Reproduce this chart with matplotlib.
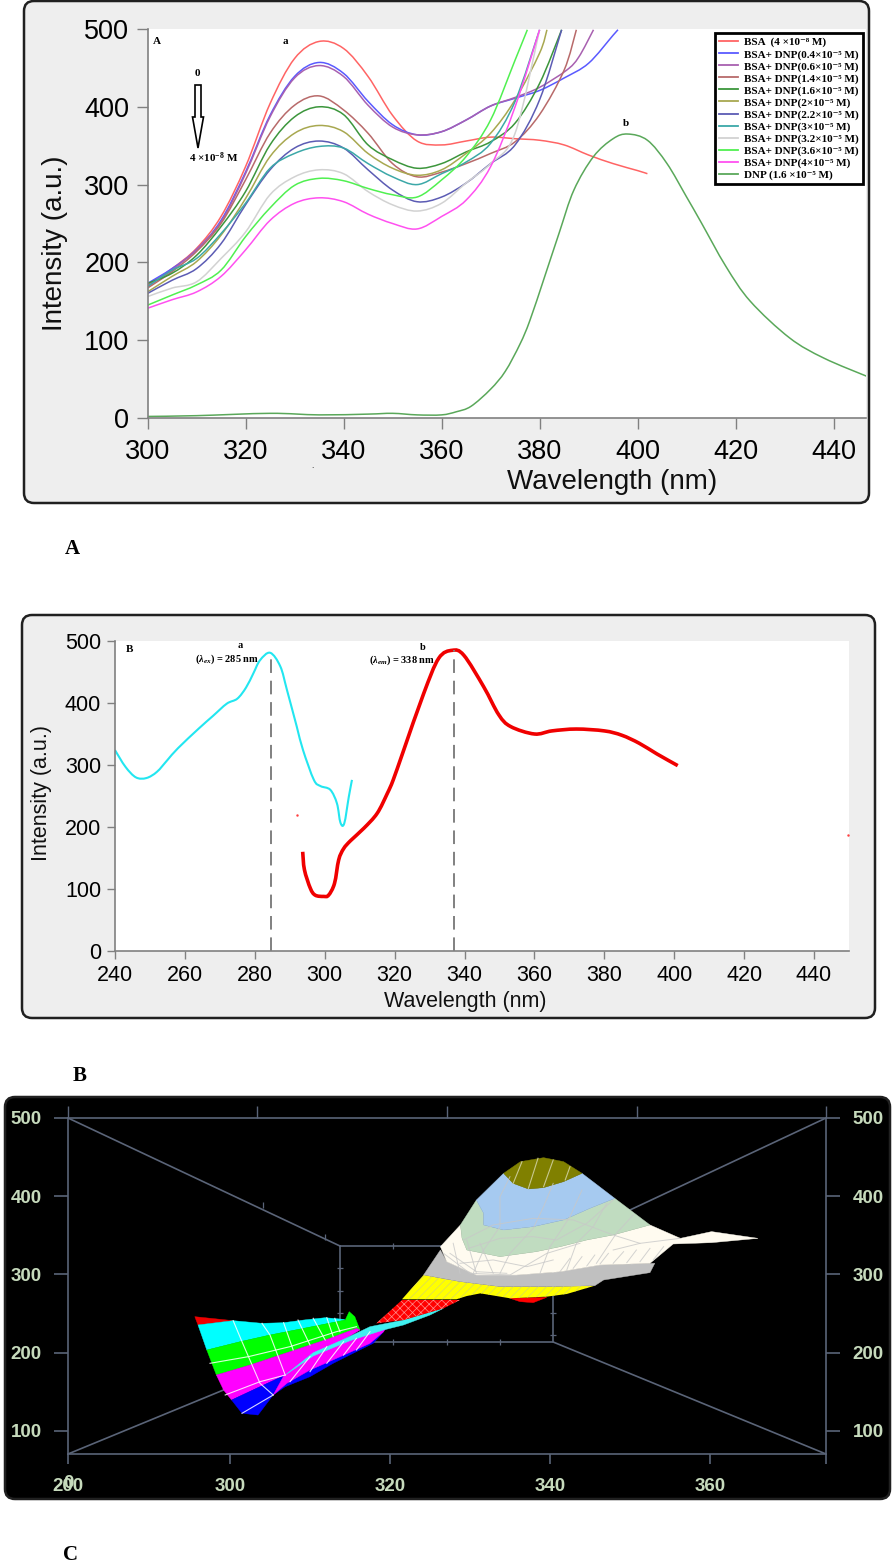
import numpy as np
import matplotlib
matplotlib.use('Agg')
import matplotlib.pyplot as plt
import matplotlib.patches as mpatches
from matplotlib.lines import Line2D
from matplotlib.path import Path

# ---- panel A: quenching spectra (nm, a.u.) ----
A_LEFT = [300, 305, 310, 315, 320, 325, 330, 335, 340, 345, 350, 355]
A_TAIL = [360, 365, 370, 375, 380]

bsa_x = A_LEFT + A_TAIL + [385, 390, 395, 400, 402]
bsa_y = [171, 192, 218, 259, 323, 404, 462, 484, 475, 439, 389, 356, 351, 356, 361, 359, 357, 351, 338, 327, 318, 314]
dnp04_x = A_LEFT + A_TAIL + [385, 390, 395, 396]
dnp04_y = [173, 192, 216, 254, 316, 389, 439, 457, 443, 407, 377, 364, 368, 383, 401, 411, 421, 437, 456, 492, 499]
dnp06_x = A_LEFT + A_TAIL + [385.5, 388, 391]
dnp06_y = [169, 190, 217, 252, 314, 387, 437, 453, 439, 402, 374, 364, 368, 383, 401, 412, 425, 447, 464, 499]
dnp14_x = A_LEFT + A_TAIL + [385, 387.5]
dnp14_y = [167, 188, 214, 250, 306, 366, 402, 414, 396, 366, 327, 310, 316, 327, 340, 355, 390, 447, 499]
dnp16_x = A_LEFT + A_TAIL + [384.5]
dnp16_y = [173, 186, 209, 246, 291, 351, 387, 400, 390, 351, 332, 321, 327, 342, 355, 379, 430, 499]
dnp2_x = A_LEFT + A_TAIL + [381.5]
dnp2_y = [162, 182, 201, 235, 282, 336, 366, 376, 368, 340, 321, 312, 319, 340, 366, 409, 469, 499]
dnp22_x = A_LEFT + A_TAIL + [384.5]
dnp22_y = [160, 177, 192, 224, 274, 319, 347, 356, 347, 319, 293, 278, 284, 302, 327, 351, 409, 499]
dnp3_x = A_LEFT + A_TAIL
dnp3_y = [169, 190, 205, 237, 276, 321, 340, 349, 347, 327, 310, 300, 314, 329, 353, 407, 499]
dnp32_x = A_LEFT + A_TAIL
dnp32_y = [156, 167, 175, 205, 239, 287, 310, 319, 314, 291, 274, 266, 276, 302, 327, 366, 499]
dnp36_x = A_LEFT + [360, 365, 370, 375, 377.5]
dnp36_y = [145, 158, 171, 190, 233, 270, 299, 308, 305, 295, 287, 284, 306, 336, 383, 460, 499]
dnp4_x = A_LEFT + A_TAIL
dnp4_y = [141, 152, 162, 182, 216, 254, 276, 283, 278, 262, 250, 243, 259, 280, 323, 400, 499]
dnp_x = [300, 310, 325, 335, 345, 350, 355, 360, 363, 366, 370, 373, 376, 378, 381, 384, 387, 391,
         395, 398, 402, 406, 410, 413, 418, 423, 431, 438, 447]
dnp_y = [2, 3, 6, 4, 5, 6, 4, 4, 8, 15, 37, 60, 95, 125, 181, 238, 293, 336,
         359, 365, 357, 327, 284, 251, 195, 150, 103, 77, 53]

A_LABELS = ['BSA  (4 ×10⁻⁸ M)', 'BSA+ DNP(0.4×10⁻⁵ M)', 'BSA+ DNP(0.6×10⁻⁵ M)', 'BSA+ DNP(1.4×10⁻⁵ M)',
            'BSA+ DNP(1.6×10⁻⁵ M)', 'BSA+ DNP(2×10⁻⁵ M)', 'BSA+ DNP(2.2×10⁻⁵ M)', 'BSA+ DNP(3×10⁻⁵ M)',
            'BSA+ DNP(3.2×10⁻⁵ M)', 'BSA+ DNP(3.6×10⁻⁵ M)', 'BSA+ DNP(4×10⁻⁵ M)', 'DNP (1.6 ×10⁻⁵ M)']
A_COLORS = ['#ff6464', '#5a5aff', '#a860b0', '#b86a6a', '#3c963c', '#a8a850',
            '#5c5cb4', '#3ca8a8', '#d2d2d2', '#50f050', '#ff50f0', '#5aa85a']

# ---- panel B: excitation / emission ----
ex_x = [240, 243, 246, 249, 252, 255, 258, 264, 268, 272, 275, 277.5, 279.6, 281.5, 284.4, 287.3, 289.2,
        292, 293.8, 296.9, 298.8, 301.6, 303.5, 304.5, 305.6, 306.9, 307.8]
ex_y = [324, 297, 280, 279, 289, 308, 327, 359, 379, 399, 407, 425, 448, 469, 481, 459, 421,
        362, 324, 276, 266, 260, 238, 207, 206, 249, 276]
em_x = [293.7, 294.2, 295.9, 297.3, 299.7, 301.1, 302.8, 304, 305.4, 307.4, 311.2, 315, 317.9, 319.6,
        322.6, 328.3, 332.6, 336.5, 339.8, 345.5, 349.8, 353.2, 360, 365, 372, 380, 385, 390, 395, 401]
em_y = [160, 131, 101, 90, 88, 90, 109, 147, 165, 178, 198, 222, 254, 276,
        324, 415, 472, 485, 477, 426, 381, 362, 350, 355, 358, 355, 348, 335, 318, 299]

# ---- panel C: projected surface, bands as (x, y) outlines ----
C_YTICKS = [100, 200, 300, 400, 500]
C_XTICKS = [279.75, 300, 320, 340, 360]
C_XLABELS = ['200', '300', '320', '340', '360']
C_TOPTICKS = [279.75, 303.4, 327.1, 350.9, 374.5]
frame_inner_x = [313.75, 340.4, 340.4, 313.75, 313.75]
frame_inner_y = [336.4, 336.4, 213.7, 213.7, 336.4]
diag_x = [[279.75, 313.75], [374.5, 340.4], [279.75, 313.75], [374.5, 340.4]]
diag_y = [[500, 336.4], [500, 336.4], [70.6, 213.7], [70.6, 213.7]]
inner_vtick_x = [320.4, 320.4, 327.1, 333.75, 304.1, 311.9]
inner_vtick_y = [336.4, 213.7, 213.7, 213.7, 388.8, 347.9]
inner_htick_x = [313.75, 313.75, 313.75, 340.4, 340.4]
inner_htick_y = [308.3, 278.9, 250.8, 250.8, 222.7]

band_red_l = ([295.6, 300.4, 296.0], [246.1, 241.0, 235.5])
band_cyan_l = ([296.0, 300.4, 304.0, 306.7, 309.2, 311.9, 314.2, 314.4, 309.2, 305.0, 301.25, 297.1],
               [235.5, 241.0, 237.6, 238.4, 241.8, 244.8, 242.7, 241.8, 231.2, 222.7, 214.1, 203.5])
band_green_l = ([297.1, 301.25, 305.0, 309.2, 314.4, 314.9, 315.6, 316.25, 315.8, 312.5, 310.0, 306.25, 302.5, 298.3],
                [203.5, 214.1, 222.7, 231.2, 241.8, 252.5, 246.1, 229.1, 231.2, 218.4, 209.9, 197.1, 184.3, 171.5])
band_mag_l = ([298.3, 302.5, 306.25, 310.0, 312.5, 315.8, 316.25, 306.9, 303.75, 300.2, 299.2],
              [171.5, 184.3, 197.1, 209.9, 218.4, 231.2, 229.1, 171.5, 156.6, 139.6, 152.4])
band_blue_l = ([300.2, 303.75, 306.9, 305.4, 303.5, 301.5],
               [139.6, 156.6, 171.5, 146.0, 120.4, 122.6])
band_blue_s = ([305.4, 306.9, 310.0, 312.9, 315.8, 317.9, 319.2, 315.8, 313.3, 310.0, 306.9],
               [146.0, 156.6, 169.4, 186.5, 201.4, 212.0, 226.9, 212.0, 195.0, 177.9, 160.0])
band_mag_s = ([306.9, 310.4, 315.0, 319.6, 319.2, 317.5, 313.3, 310.0, 307.1, 305.4],
              [173.7, 198.0, 216.0, 233.3, 226.9, 212.0, 192.8, 177.9, 160.9, 146.0])
band_cyan_s = ([306.9, 310.4, 314.2, 317.5, 321.7, 326.7, 325.0, 321.7, 319.2, 315.0, 310.4],
               [171.5, 200.0, 217.1, 233.3, 241.8, 256.8, 248.2, 235.5, 229.1, 215.4, 195.8])
band_red_h = ([318.3, 321.5, 328.75, 326.7, 321.7], [237.6, 267.4, 267.4, 256.8, 241.8])
band_red_f = ([335.0, 339.6, 337.9, 336.25], [269.6, 270.8, 264.0, 265.3])
band_yellow = ([321.5, 324.2, 328.75, 333.75, 340.0, 345.6, 342.1, 339.6, 335.0, 333.3, 331.3, 329.6, 328.3],
               [268.3, 299.4, 290.9, 284.5, 284.5, 285.7, 275.1, 271.7, 269.6, 272.5, 275.9, 272.5, 268.3])
band_grey = ([324.2, 326.3, 327.1, 330.8, 335.8, 341.25, 346.25, 353.1, 352.5, 346.7, 345.6, 340.0, 333.75, 328.75],
             [299.4, 331.3, 316.4, 299.4, 299.4, 303.6, 312.2, 314.3, 302.4, 293.0, 285.7, 284.5, 284.5, 290.9])
band_cream = ([326.3, 328.8, 329.0, 329.6, 333.75, 338.3, 341.3, 344.6, 347.9, 352.5, 356.3, 360.2, 366.0, 360.2,
               355.4, 352.5, 346.25, 341.25, 335.8, 330.8, 327.1],
              [335.6, 363.3, 346.2, 331.3, 322.8, 329.2, 335.6, 344.1, 350.5, 363.3, 346.2, 354.8, 346.2, 340.7,
               339.0, 314.3, 312.2, 303.6, 299.4, 299.4, 316.4])
band_pale = ([328.8, 330.8, 331.7, 331.7, 334.2, 337.9, 341.7, 345.0, 348.1, 352.5, 347.9, 344.6, 341.3, 338.3, 333.75, 329.6, 329.0],
             [363.3, 395.2, 378.2, 363.3, 356.9, 361.1, 369.7, 384.6, 397.3, 363.3, 350.5, 344.1, 335.6, 329.2, 322.8, 331.3, 346.2])
band_sky = ([330.8, 334.2, 335.4, 337.3, 339.2, 341.7, 344.0, 348.1, 345.0, 341.7, 337.9, 334.2, 331.7, 331.7],
            [395.2, 429.3, 416.5, 409.3, 411.0, 418.7, 429.3, 397.3, 384.6, 369.7, 361.1, 356.9, 363.3, 378.2])
band_olive = ([334.2, 336.3, 339.2, 341.7, 344.0, 341.7, 339.2, 337.3, 335.4],
              [429.3, 444.2, 449.3, 444.2, 429.3, 418.7, 411.0, 409.3, 416.5])

mesh_lobe = [
    ([300.4, 301.5, 303.75, 305.4], [241, 214.1, 160.9, 146]),
    ([304, 305, 306.9], [237.6, 222.7, 171.5]),
    ([306.7, 307.9], [238.4, 203.5]),
    ([308.5, 310], [241.8, 209.9]),
    ([310.4, 311.9], [244, 216.3]),
    ([312.1, 312.9], [244.8, 220.5]),
    ([313.1, 313.75], [244, 226.9]),
    ([297.5, 302.3, 307.5, 313.3, 315.8], [186.5, 195, 207.8, 226.9, 233.3]),
    ([299.4, 303.75, 306.9], [146, 163, 171.5]),
    ([301.5, 305.4], [122.6, 146]),
    ([307.5, 310], [163, 195]), ([310, 312.1], [175.8, 207.8]),
    ([312.1, 314.2], [186.5, 214.1]), ([314.2, 315.8], [197.1, 218.4]),
    ([315.8, 317.5], [203.5, 226.9]),
]
mesh_hill = [
    ([329.2, 332.9, 337.9, 342.9, 347.9, 351.25], [344.1, 363.3, 371.8, 369.7, 350.5, 339.8]),
    ([329.8, 333.75, 337.9, 340.8, 344.6, 347.9], [333.4, 346.2, 348.4, 344.1, 365.4, 395.2]),
    ([335, 333.75, 333.75, 331.7, 330.4], [425, 399.5, 361.1, 331.3, 301.5]),
    ([340.4, 339.2, 337.9, 335, 333.75], [416.5, 386.7, 359, 327, 301.5]),
    ([344, 342.5, 340, 338.75], [408, 373.9, 335.6, 301.5]),
    ([347.1, 345.4, 343.3, 342.1], [391, 361.1, 339.8, 305.8]),
    ([350.4, 348.3, 345.8], [376, 352.6, 314.3]),
    ([347.9, 351.25, 356.25], [331.3, 339.8, 346.2]),
    ([327.5, 330.8, 334.6], [327, 303.6, 301.5]),
    ([352.9, 354.2], [318.5, 335.6]), ([351.25, 352.5], [316.4, 333.4]),
    ([349.6, 350.8], [315.1, 331.3]), ([347.9, 349.2], [314.3, 329.2]),
    ([346.25, 347.3], [313.4, 327]), ([344.6, 345.6], [310.9, 324.9]),
    ([342.9, 344], [307.9, 322.8]), ([341.25, 342.5], [303.6, 320.7]),
    ([327.9, 328.75], [339.9, 301.5]), ([329.6, 330.8], [344, 301.5]),
    ([331.25, 332.9], [339.9, 301.5]),
    ([326.7, 330, 335, 339.6, 343.75], [327, 301.5, 299.4, 327, 339.9]),
    ([328.75, 332.9, 337.1, 340.4], [314.3, 318.6, 310, 318.6]),
]
mesh_olive = [
    ([336.5, 335.4], [444.2, 416.5]), ([338.5, 337.3], [448.5, 410.1]),
    ([340.4, 339.2], [446.3, 412.2]), ([342.5, 341.9], [437.8, 420.8]),
]

plt.rcParams['font.family'] = ['Liberation Sans', 'DejaVu Sans']
plt.rcParams['mathtext.fontset'] = 'custom'
plt.rcParams['mathtext.rm'] = 'Liberation Serif:bold'
plt.rcParams['mathtext.it'] = 'Liberation Serif:italic:bold'
plt.rcParams['mathtext.bf'] = 'Liberation Serif:bold'
plt.rcParams['hatch.linewidth'] = 0.5

W, H = 896, 1565
SERIF = dict(family='Liberation Serif', weight='bold', color='black')


def px_axes(x0, y0, x1, y1, **kw):
    """Axes placed by pixel box (y counted from the top of the image)."""
    return fig.add_axes([x0 / W, 1 - y1 / H, (x1 - x0) / W, (y1 - y0) / H], **kw)


def panel(ax, x0, y0, x1, y1, face):
    box = mpatches.FancyBboxPatch((x0 + 8, y0 + 8), x1 - x0 - 16, y1 - y0 - 16,
                                  boxstyle='round,pad=8,rounding_size=10',
                                  fc=face, ec='#202020', lw=1.8)
    ax.add_patch(box)


def style_axes(ax, size, tick_len, pad):
    for s in ['top', 'right']:
        ax.spines[s].set_visible(False)
    for s in ['left', 'bottom']:
        ax.spines[s].set_color('#808080')
        ax.spines[s].set_linewidth(1.2)
    ax.tick_params(labelsize=size, length=tick_len, width=1, color='#808080', pad=pad)


def smooth_curve(ax, xs, ys, color, lw):
    """Draw the read points joined by Bezier segments, so the trace stays rounded."""
    pts = np.column_stack([xs, ys]).astype(float)
    ext = np.vstack([pts[0], pts, pts[-1]])
    verts = [pts[0]]
    codes = [Path.MOVETO]
    for i in range(1, len(ext) - 2):
        verts += [ext[i] + (ext[i + 1] - ext[i - 1]) / 6,
                  ext[i + 1] - (ext[i + 2] - ext[i]) / 6,
                  ext[i + 1]]
        codes += [Path.CURVE4] * 3
    ax.add_patch(mpatches.PathPatch(Path(verts, codes), fc='none', ec=color, lw=lw))


fig = plt.figure(figsize=(W / 100, H / 100), dpi=100, facecolor='white')

bg = fig.add_axes([0, 0, 1, 1], zorder=0)
bg.set_xlim(0, W)
bg.set_ylim(H, 0)
bg.axis('off')
panel(bg, 24, 1, 869, 503, '#eeeeee')
panel(bg, 22, 615, 875, 1018, '#eeeeee')
panel(bg, 5, 1097, 890, 1499, 'black')

# panel A
axa = px_axes(147.5, 29, 866, 418, zorder=2)
A_SERIES = [(bsa_x, bsa_y), (dnp04_x, dnp04_y), (dnp06_x, dnp06_y), (dnp14_x, dnp14_y),
            (dnp16_x, dnp16_y), (dnp2_x, dnp2_y), (dnp22_x, dnp22_y), (dnp3_x, dnp3_y),
            (dnp32_x, dnp32_y), (dnp36_x, dnp36_y), (dnp4_x, dnp4_y), (dnp_x, dnp_y)]
handles = []
for (sx, sy), col, lab in zip(A_SERIES, A_COLORS, A_LABELS):
    smooth_curve(axa, sx, sy, col, 1.1)
    handles.append(Line2D([], [], color=col, lw=1.3, label=lab))
axa.set_xlim(300, 446.6)
axa.set_ylim(0, 500)
axa.set_xticks(range(300, 441, 20))
axa.set_yticks(range(0, 501, 100))
style_axes(axa, 19.5, 8, 5)
axa.tick_params(axis='x', pad=7)
axa.legend(handles=handles, loc='upper left', bbox_to_anchor=((715 - 147.5) / 718.5, (418 - 33) / 389),
           borderaxespad=0, frameon=True, fancybox=False, edgecolor='black', framealpha=1,
           prop=dict(family=['Liberation Serif', 'DejaVu Serif'], weight='bold', size=8), handlelength=1.7,
           handletextpad=0.5, labelspacing=0.18, borderpad=0.4).get_frame().set_linewidth(2)

# panel B
axb = px_axes(115, 641, 849, 951, zorder=2)
smooth_curve(axb, ex_x, ex_y, '#22e6f0', 1.5)
smooth_curve(axb, em_x, em_y, '#f00000', 2.6)
axb.plot([284.5, 284.5], [0, 481], color='#808080', lw=1.4, dashes=(7, 4))
axb.plot([337, 337], [0, 485], color='#808080', lw=1.4, dashes=(7, 4))
axb.plot([292, 449.7], [220, 187], ls='none', marker='.', ms=1.5, color='#ff4040')
axb.set_xlim(240, 450)
axb.set_ylim(0, 500)
axb.set_xticks(range(240, 441, 20))
axb.set_yticks(range(0, 501, 100))
style_axes(axb, 15.5, 6, 4)

# panel C
axc = px_axes(68, 1118, 826, 1454, zorder=2, facecolor='black')
FRAME = '#5a6478'
axc.plot(frame_inner_x, frame_inner_y, color=FRAME, lw=1.2)
for dx, dy in zip(diag_x, diag_y):
    axc.plot(dx, dy, color=FRAME, lw=1.2)
axc.plot(inner_vtick_x, inner_vtick_y, ls='none', marker='|', ms=4, mew=0.9, color=FRAME)
axc.plot(inner_htick_x, inner_htick_y, ls='none', marker='_', ms=4, mew=0.9, color=FRAME)
fills = [
    (band_red_l, '#ee0000', None, None), (band_cyan_l, '#00ffff', None, None),
    (band_green_l, '#00ff00', None, None), (band_mag_l, '#ff00ff', None, None),
    (band_blue_l, '#0000ff', None, None), (band_blue_s, '#0000ff', None, None),
    (band_mag_s, '#ff00ff', None, None), (band_cyan_s, '#40f0f0', None, None),
    (band_red_h, '#ff0000', 'xxxx', '#ff9090'), (band_red_f, '#ff0000', None, None),
    (band_yellow, '#ffff00', '////', '#d8d860'), (band_grey, '#c0c0c0', None, None),
    (band_cream, '#fffbf0', None, None), (band_pale, '#c0dcc0', None, None),
    (band_sky, '#a6caf0', None, None), (band_olive, '#808000', None, None),
]
for (bx, by), col, hatch, hcol in fills:
    if hatch:
        axc.fill(bx, by, fc=col, ec=hcol, hatch=hatch, lw=0, zorder=3)
    else:
        axc.fill(bx, by, fc=col, ec=col, lw=0.3, zorder=3)
for mx, my in mesh_lobe:
    axc.plot(mx, my, color='white', lw=0.8, alpha=0.85, zorder=4)
for mx, my in mesh_hill:
    axc.plot(mx, my, color='#c8c8c8', lw=0.7, alpha=0.8, zorder=4)
for mx, my in mesh_olive:
    axc.plot(mx, my, color='#c8c890', lw=0.8, zorder=4)
axc.set_xlim(279.75, 374.5)
axc.set_ylim(70.6, 500)
axc.set_xticks(C_XTICKS + [374.5])
axc.set_xticklabels(C_XLABELS + [''])
axc.set_yticks(C_YTICKS)
for s in axc.spines.values():
    s.set_color(FRAME)
    s.set_linewidth(1.2)
axc.tick_params(axis='both', length=10, width=1.2, color=FRAME, labelcolor='#c6dabc', labelsize=13.5,
                left=True, right=True, labelleft=True, labelright=True, pad=9)
axc.tick_params(axis='x', length=7, pad=10)
for lab in axc.get_xticklabels() + axc.get_yticklabels():
    lab.set_fontweight('bold')
top = axc.secondary_xaxis('top')
top.set_xticks(C_TOPTICKS)
top.set_xticklabels([])
top.tick_params(length=9, width=1, color=FRAME)
top.spines['top'].set_visible(False)

# text drawn on top of the panels
fg = fig.add_axes([0, 0, 1, 1], zorder=10)
fg.set_xlim(0, W)
fg.set_ylim(H, 0)
fg.axis('off')
fg.patch.set_alpha(0)

fg.text(612, 482, 'Wavelength (nm)', fontsize=20, ha='center', va='center', color='#101010')
fg.text(55, 243, 'Intensity (a.u.)', fontsize=20, rotation=90, ha='center', va='center', color='#101010')
fg.text(465, 1002, 'Wavelength (nm)', fontsize=15.5, ha='center', va='center', color='#101010')
fg.text(41, 793, 'Intensity (a.u.)', fontsize=15.5, rotation=90, ha='center', va='center', color='#101010')

fg.text(157, 42, 'A', fontsize=8, ha='center', va='center', **SERIF)
fg.text(285, 41, 'a', fontsize=8, ha='center', va='center', **SERIF)
fg.text(626, 123, 'b', fontsize=8, ha='center', va='center', **SERIF)
fg.text(197, 73, '0', fontsize=8, ha='center', va='center', **SERIF)
fg.text(214, 158, r'4 $\times$10$^{-8}$ M', fontsize=8, ha='center', va='center', **SERIF)
fg.text(312, 467, '.', fontsize=6, ha='center', va='center', color='black')
fg.add_patch(mpatches.FancyArrow(198, 85, 0, 63, width=6, head_width=11, head_length=31,
                                 length_includes_head=True, fc='white', ec='black', lw=1.2))

fg.text(130, 649, 'B', fontsize=8, ha='center', va='center', **SERIF)
fg.text(240, 646, 'a', fontsize=7.5, ha='center', va='center', **SERIF)
fg.text(227, 659, r'($\lambda_{ex}$) = 285 nm', fontsize=7.5, ha='center', va='center', **SERIF)
fg.text(423, 648, 'b', fontsize=7.5, ha='center', va='center', **SERIF)
fg.text(402, 660, r'($\lambda_{em}$) = 338 nm', fontsize=7.5, ha='center', va='center', **SERIF)

# the reference prints a stray 0 over the first x label
fg.text(68, 1484, '0', fontsize=13.5, weight='bold', ha='center', va='center', color='#c6dabc')

fg.text(72, 549, 'A', fontsize=15, ha='center', va='center', **SERIF)
fg.text(80, 1076, 'B', fontsize=15, ha='center', va='center', **SERIF)
fg.text(70, 1555, 'C', fontsize=15, ha='center', va='center', **SERIF)

fig.savefig('out.png', dpi=100)
